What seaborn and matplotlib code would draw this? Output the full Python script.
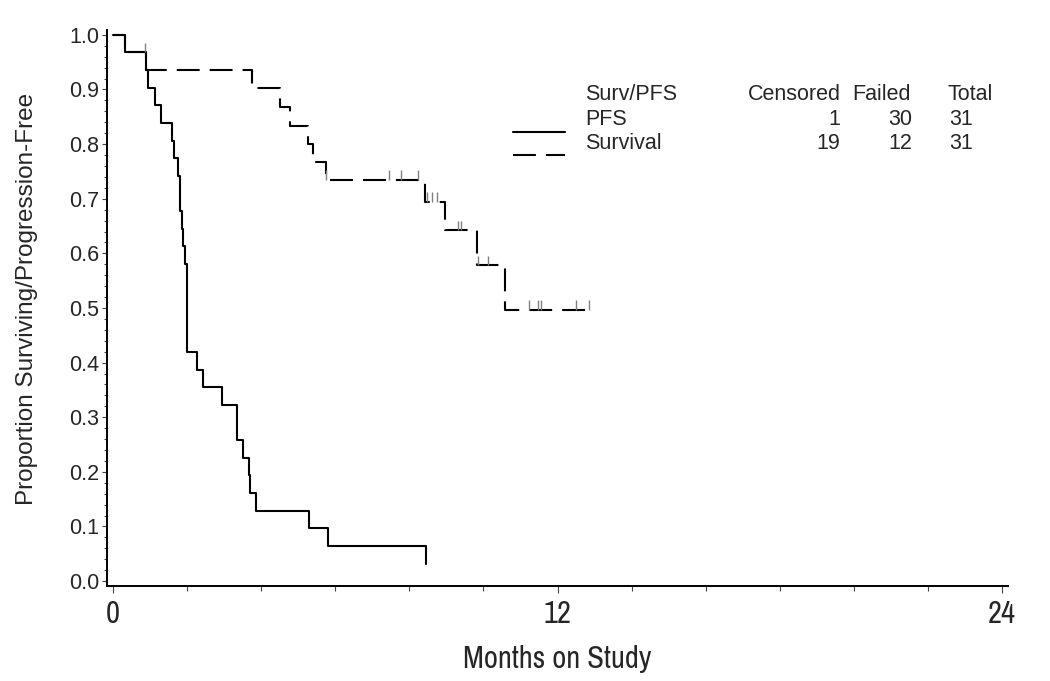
import numpy as np
import pandas as pd
import matplotlib
matplotlib.use('Agg')
import matplotlib.pyplot as plt
from matplotlib.lines import Line2D
from matplotlib.ticker import MultipleLocator, FormatStrFormatter
import seaborn as sns

# Kaplan-Meier curves (months, proportion)
pfs_time = [0, 0.32, 0.89, 0.95, 1.13, 1.30, 1.60, 1.66, 1.76, 1.81, 1.85, 1.88, 1.94,
            1.99, 2.01, 2.26, 2.42, 2.95, 3.34, 3.50, 3.66, 3.70, 3.86, 5.29, 5.81, 8.44]
pfs_surv = [1.0, 0.968, 0.935, 0.903, 0.871, 0.839, 0.806, 0.774, 0.742, 0.677, 0.645, 0.613, 0.581,
            0.516, 0.419, 0.387, 0.355, 0.323, 0.258, 0.226, 0.194, 0.161, 0.129, 0.097, 0.065, 0.032]

os_time = [0, 0.32, 0.89, 3.76, 4.51, 4.78, 5.27, 5.39, 5.74, 8.42, 8.96, 9.82, 10.58, 12.86]
os_surv = [1.0, 0.968, 0.935, 0.902, 0.868, 0.834, 0.801, 0.768, 0.735, 0.694, 0.642, 0.578, 0.496, 0.496]

# censored observations (survival)
os_cens = [0.86, 5.76, 7.45, 7.77, 8.24, 8.47, 8.61, 8.74, 9.32, 9.39, 9.86, 10.12,
           11.24, 11.48, 11.55, 12.50, 12.86]

leg_names = ['PFS', 'Survival']
leg_censored = [1, 19]
leg_failed = [30, 12]
leg_total = [31, 31]

W, H = 1050, 681

def fx(px):
    return px / W

def fy(py):
    return 1 - py / H

sns.set_style('ticks')
plt.rcParams['font.family'] = ['Liberation Sans', 'DejaVu Sans']
narrow = ['Archivo Narrow', 'Liberation Sans', 'DejaVu Sans']

fig = plt.figure(figsize=(W / 100, H / 100), dpi=100)
ax = fig.add_axes([fx(106.7), fy(586), fx(1008) - fx(106.7), fy(30.5) - fy(586)])

dash = (0, (11, 4.8))

pfs = pd.DataFrame({'t': pfs_time, 's': pfs_surv})
ovs = pd.DataFrame({'t': os_time, 's': os_surv})
sns.lineplot(data=pfs, x='t', y='s', drawstyle='steps-post', estimator=None, sort=False,
             color='black', lw=1.5, ax=ax)
sns.lineplot(data=ovs, x='t', y='s', drawstyle='steps-post', estimator=None, sort=False,
             color='black', lw=1.5, ax=ax)
ax.lines[-1].set_linestyle(dash)

# censor ticks sit on the survival step
lvl = np.array(os_surv)[np.searchsorted(os_time, os_cens, side='right') - 1]
ax.vlines(os_cens, lvl, lvl + 0.018, color='#808080', lw=1)

ax.set_xlim(-0.17, 24.16)
ax.set_ylim(-0.009, 1.008)
ax.xaxis.set_major_locator(MultipleLocator(12))
ax.xaxis.set_minor_locator(MultipleLocator(2))
ax.yaxis.set_major_locator(MultipleLocator(0.1))
ax.yaxis.set_minor_locator(MultipleLocator(0.02))
ax.yaxis.set_major_formatter(FormatStrFormatter('%.1f'))

for s in ['top', 'right']:
    ax.spines[s].set_visible(False)
for s in ['left', 'bottom']:
    ax.spines[s].set_linewidth(1.4)
    ax.spines[s].set_color('black')

ax.tick_params(axis='x', which='major', length=5, width=0.8, color='#444444', pad=5)
ax.tick_params(axis='x', which='minor', length=3.6, width=0.8, color='#444444')
ax.tick_params(axis='y', which='major', length=3.6, width=0.8, color='#444444', pad=1.5,
               labelsize=15.5)
ax.tick_params(axis='y', which='minor', length=2.2, width=0.8, color='#444444')
for lab in ax.get_xticklabels():
    lab.set_fontfamily(narrow)
    lab.set_fontsize(22)

ax.set_xlabel('Months on Study', fontsize=22, family=narrow, labelpad=12)
ax.set_ylabel('Proportion Surviving/Progression-Free', fontsize=17.5)
ax.yaxis.set_label_coords(-0.0762, 0.517)

# legend table
fs = 15.5
fig.text(fx(585), fy(100), 'Surv/PFS', fontsize=fs, va='baseline')
fig.text(fx(748), fy(100), 'Censored', fontsize=fs, va='baseline')
fig.text(fx(852), fy(100), 'Failed', fontsize=fs, va='baseline')
fig.text(fx(948), fy(100), 'Total', fontsize=fs, va='baseline')
rows = [125, 149]
lines_y = [132, 155]
styles = ['-', dash]
for i, name in enumerate(leg_names):
    yb = fy(rows[i])
    fig.text(fx(585), yb, name, fontsize=fs, va='baseline')
    fig.text(fx(840), yb, str(leg_censored[i]), fontsize=fs, va='baseline', ha='right')
    fig.text(fx(912), yb, str(leg_failed[i]), fontsize=fs, va='baseline', ha='right')
    fig.text(fx(973), yb, str(leg_total[i]), fontsize=fs, va='baseline', ha='right')
    fig.add_artist(Line2D([fx(513), fx(565)], [fy(lines_y[i])] * 2, transform=fig.transFigure,
                          color='black', lw=1.5, linestyle=styles[i]))

fig.savefig('out.png', dpi=100)
